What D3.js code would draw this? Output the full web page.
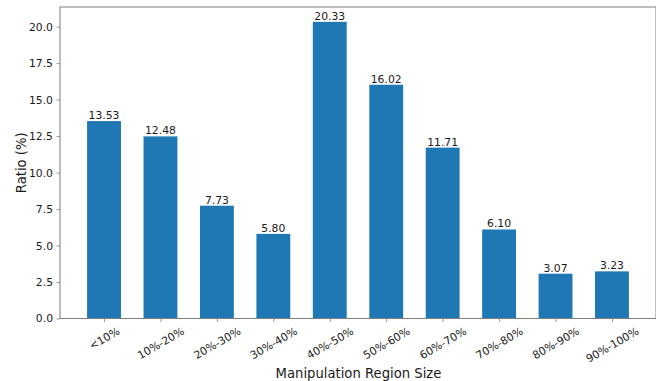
<!DOCTYPE html>
<html>
<head>
<meta charset="utf-8">
<script src="https://cdn.jsdelivr.net/npm/d3@7"></script>
<style>
  html, body { margin: 0; padding: 0; background: #fff; }
  svg { display: block; font-family: "DejaVu Sans", sans-serif; }
</style>
</head>
<body>
<svg id="chart" width="656" height="381"></svg>
<script>
// Share of samples by manipulated-region size
const categories = ["<10%", "10%-20%", "20%-30%", "30%-40%", "40%-50%", "50%-60%", "60%-70%", "70%-80%", "80%-90%", "90%-100%"];
const ratios = [13.53, 12.48, 7.73, 5.80, 20.33, 16.02, 11.71, 6.10, 3.07, 3.23];
const yTicks = [0, 2.5, 5, 7.5, 10, 12.5, 15, 17.5, 20];

const svg = d3.select("#chart");
const plot = { left: 60, right: 656, top: 7, bottom: 318.5 };

// Bars are 0.6 of a slot wide, with a 5% margin on each side of the data range
const barW = 0.6;
const lo = -barW / 2, hi = categories.length - 1 + barW / 2;
const pad = (hi - lo) * 0.05;
const x = d3.scaleLinear().domain([lo - pad, hi + pad]).range([plot.left, plot.right]);
const yMax = d3.max(ratios) * 1.05;
const y = d3.scaleLinear().domain([0, yMax]).range([plot.bottom, plot.top]);

const ink = "#1a1a1a";
const spine = "#7f7f7f";
const tickFont = 10.8, valueFont = 10.8, titleFont = 13.2;

// Bars
svg.append("g").selectAll("rect").data(ratios).join("rect")
  .attr("x", (d, i) => x(i - barW / 2))
  .attr("width", (d, i) => x(i + barW / 2) - x(i - barW / 2))
  .attr("y", d => y(d))
  .attr("height", d => y(0) - y(d))
  .attr("fill", "#1f77b4");

// Value labels above each bar
svg.append("g").selectAll("text").data(ratios).join("text")
  .attr("x", (d, i) => x(i))
  .attr("y", d => y(d) - 2)
  .attr("text-anchor", "middle")
  .attr("font-size", valueFont)
  .attr("fill", ink)
  .text(d => d.toFixed(2));

// Y axis
const yAxis = svg.append("g")
  .attr("transform", `translate(${plot.left},0)`)
  .call(d3.axisLeft(y).tickValues(yTicks).tickFormat(d3.format(".1f")).tickSize(3.5).tickPadding(3.5));
yAxis.select(".domain").remove();
yAxis.selectAll(".tick line").attr("stroke", spine).attr("stroke-width", 0.8);
yAxis.selectAll(".tick text").attr("font-size", tickFont).attr("fill", ink).attr("font-family", "DejaVu Sans, sans-serif");

// X axis ticks
const xAxis = svg.append("g")
  .attr("transform", `translate(0,${plot.bottom})`)
  .call(d3.axisBottom(x).tickValues(d3.range(categories.length)).tickFormat(i => categories[i]).tickSize(3.5));
xAxis.select(".domain").remove();
xAxis.selectAll(".tick line").attr("stroke", spine).attr("stroke-width", 0.8);
// Rotated category labels, centred under each tick with the top of the rotated box just below it
xAxis.selectAll(".tick text").each(function() {
  const t = d3.select(this)
    .attr("font-size", tickFont).attr("fill", ink).attr("font-family", "DejaVu Sans, sans-serif")
    .attr("text-anchor", "middle").attr("dy", null).attr("dominant-baseline", "central");
  const w = this.getComputedTextLength();
  const h = tickFont * 1.05;
  const boxH = w * 0.5 + h * 0.866;
  t.attr("y", null).attr("transform", `translate(0,${3.5 + 3.5 + boxH / 2}) rotate(-30)`);
});

// Frame
svg.append("rect")
  .attr("x", plot.left).attr("y", plot.top)
  .attr("width", plot.right - plot.left).attr("height", plot.bottom - plot.top)
  .attr("fill", "none").attr("stroke", spine).attr("stroke-width", 1);

// Axis titles
svg.append("text")
  .attr("x", (plot.left + plot.right) / 2 + 0.5).attr("y", 378)
  .attr("text-anchor", "middle").attr("font-size", titleFont).attr("fill", ink)
  .text("Manipulation Region Size");
svg.append("text")
  .attr("transform", `translate(26,${(plot.top + plot.bottom) / 2}) rotate(-90)`)
  .attr("text-anchor", "middle").attr("font-size", titleFont).attr("fill", ink)
  .text("Ratio (%)");
</script>
</body>
</html>
